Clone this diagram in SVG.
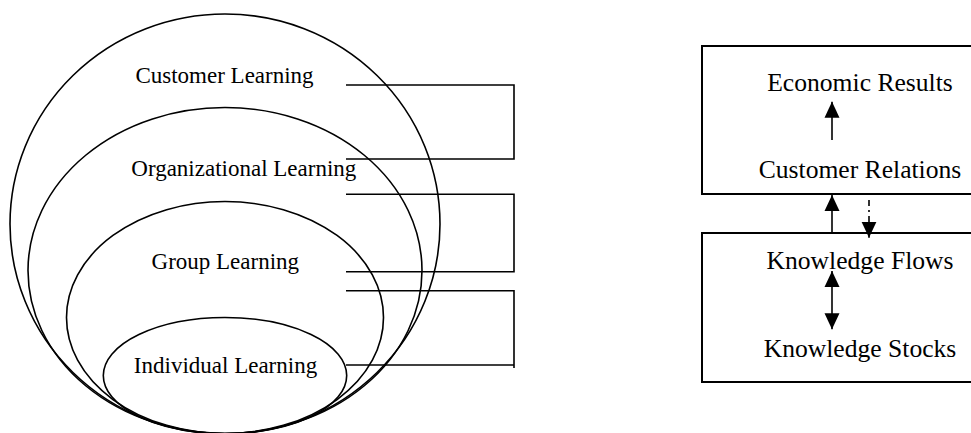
<svg xmlns="http://www.w3.org/2000/svg" width="971" height="433" viewBox="0 0 971 433">
<style>
.ring{fill:none;stroke:#000;stroke-width:1.6}
.br{fill:none;stroke:#000;stroke-width:1.6}
.box{fill:#fff;stroke:#000;stroke-width:2}
.tl{font-family:"Liberation Serif","Times New Roman",serif;font-size:23px;fill:#000;text-anchor:middle}
.tr{font-family:"Liberation Serif","Times New Roman",serif;font-size:25.6px;fill:#000;text-anchor:middle}
.ln{stroke:#000;stroke-width:1.6;fill:none}
</style>
<defs>
<marker id="ah" markerUnits="userSpaceOnUse" markerWidth="16" markerHeight="16" viewBox="0 0 16 16" refX="16" refY="8" orient="auto-start-reverse">
<path d="M0,0.5 L16,8 L0,15.5 Z" fill="#000"/>
</marker>
</defs>
<rect width="971" height="433" fill="#fff"/>
<g id="customer-learning">
<ellipse class="ring" cx="225" cy="224" rx="215" ry="210"/>
<text class="tl" x="224.5" y="83">Customer Learning</text>
</g>
<g id="organizational-learning">
<ellipse class="ring" cx="225" cy="270.5" rx="197" ry="163"/>
<text class="tl" x="243.8" y="176">Organizational Learning</text>
</g>
<g id="group-learning">
<ellipse class="ring" cx="225" cy="317.5" rx="158.5" ry="116"/>
<text class="tl" x="225.3" y="269">Group Learning</text>
</g>
<g id="individual-learning">
<ellipse class="ring" cx="225" cy="375.5" rx="121.7" ry="58"/>
<text class="tl" x="225.5" y="373.3">Individual Learning</text>
</g>
<g id="top-box">
<rect class="box" x="702" y="46" width="330" height="148"/>
<text class="tr" x="860" y="91">Economic Results</text>
<text class="tr" x="860" y="178.3">Customer Relations</text>
</g>
<g id="bottom-box">
<rect class="box" x="702" y="233" width="330" height="149"/>
<text class="tr" x="860" y="269">Knowledge Flows</text>
<text class="tr" x="860" y="357.3">Knowledge Stocks</text>
</g>
<g id="connectors">
<polyline class="br" points="346,85 514,85 514,159 346,159"/>
<polyline class="br" points="346,194.3 514,194.3 514,271.7 346,271.7"/>
<polyline class="br" points="346,290.7 514,290.7 514,368"/>
<line class="br" x1="346" y1="365" x2="514" y2="365"/>
<line class="ln" x1="832" y1="140" x2="832" y2="101.7" marker-end="url(#ah)"/>
<line class="ln" x1="832" y1="233" x2="832" y2="195" marker-end="url(#ah)"/>
<line class="ln" x1="869" y1="200" x2="869" y2="237.7" stroke-dasharray="6,4,2,4" marker-end="url(#ah)"/>
<line class="ln" x1="832" y1="271" x2="832" y2="329.3" marker-start="url(#ah)" marker-end="url(#ah)"/>
</g>
</svg>
